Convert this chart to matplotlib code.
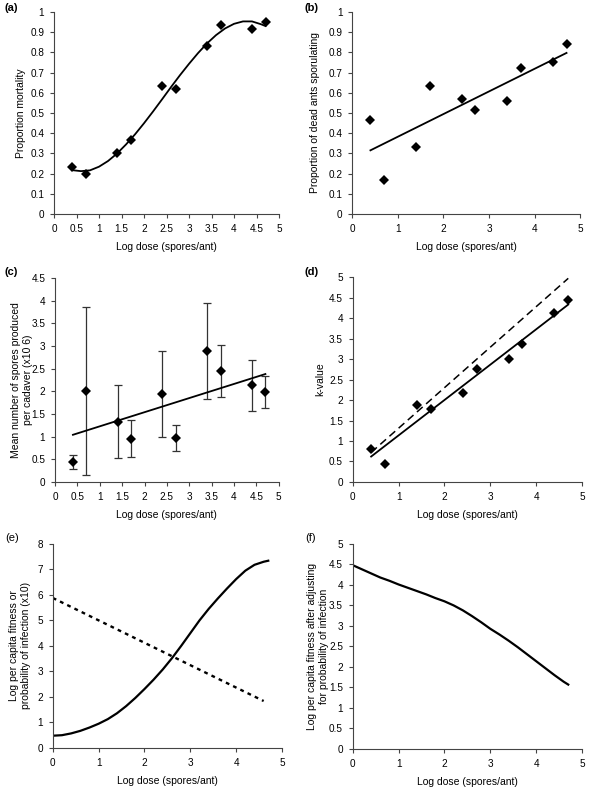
import matplotlib
matplotlib.use('Agg')
import matplotlib.pyplot as plt
from matplotlib.ticker import MultipleLocator

plt.rcParams['font.family'] = ['Liberation Sans', 'DejaVu Sans']

dose = [0.4, 0.7, 1.4, 1.7, 2.4, 2.7, 3.4, 3.7, 4.4, 4.7]

# (a) proportion mortality + polynomial trendline
mortality = [0.233, 0.2, 0.3, 0.367, 0.633, 0.617, 0.833, 0.933, 0.917, 0.95]
fit_a_x = [0.4, 0.6, 0.8, 1.0, 1.2, 1.4, 1.6, 1.8, 2.0, 2.2, 2.4, 2.6, 2.8,
           3.0, 3.2, 3.4, 3.6, 3.8, 4.0, 4.2, 4.4, 4.6, 4.7]
fit_a_y = [0.217, 0.212, 0.216, 0.234, 0.262, 0.299, 0.344, 0.394, 0.449,
           0.507, 0.567, 0.628, 0.687, 0.743, 0.796, 0.844, 0.885, 0.918,
           0.941, 0.953, 0.953, 0.939, 0.93]

# (b) proportion sporulating
sporulating = [0.463, 0.167, 0.333, 0.633, 0.567, 0.513, 0.56, 0.72, 0.753, 0.84]
fit_b_x = [0.4, 4.7]
fit_b_y = [0.315, 0.797]

# (c) spores per cadaver with error bars
spores = [0.44, 2.0, 1.33, 0.95, 1.94, 0.97, 2.89, 2.44, 2.13, 1.98]
spores_err = [0.16, 1.85, 0.8, 0.41, 0.95, 0.29, 1.05, 0.57, 0.56, 0.36]
fit_c_x = [0.4, 4.7]
fit_c_y = [1.04, 2.38]

# (d) k-value
kvalue = [0.8, 0.44, 1.88, 1.78, 2.16, 2.75, 2.99, 3.36, 4.12, 4.44]
fit_d_x = [0.4, 4.7]
fit_d_y = [0.62, 4.33]
dash_d_y = [0.72, 4.97]

# (e) fitness and probability of infection
curve_x = [0.0, 0.2, 0.4, 0.6, 0.8, 1.0, 1.2, 1.4, 1.6, 1.8, 2.0, 2.2, 2.4,
           2.6, 2.8, 3.0, 3.2, 3.4, 3.6, 3.8, 4.0, 4.2, 4.4, 4.6, 4.7]
fitness_e = [0.48, 0.50, 0.57, 0.67, 0.80, 0.95, 1.13, 1.36, 1.64, 1.96, 2.31,
             2.68, 3.08, 3.52, 4.0, 4.5, 5.0, 5.45, 5.86, 6.25, 6.62, 6.95,
             7.18, 7.30, 7.34]
infect_x = [0.0, 4.6]
infect_y = [5.88, 1.84]

# (f) adjusted fitness
fitness_f = [4.48, 4.38, 4.28, 4.18, 4.10, 4.01, 3.93, 3.85, 3.77, 3.68, 3.60,
             3.50, 3.38, 3.24, 3.09, 2.93, 2.79, 2.64, 2.48, 2.31, 2.14, 1.97,
             1.80, 1.64, 1.57]

xlabel = 'Log dose (spores/ant)'
fs = 7.2

fig = plt.figure(figsize=(6, 7.94), dpi=100)


def setup(rect, ymax, ystep, xstep, ylabel, tag, tagpos, bold=True, lpad=6):
    ax = fig.add_axes(rect)
    ax.set_xlim(0, 5)
    ax.set_ylim(0, ymax)
    ax.xaxis.set_major_locator(MultipleLocator(xstep))
    ax.yaxis.set_major_locator(MultipleLocator(ystep))
    ax.spines['top'].set_visible(False)
    ax.spines['right'].set_visible(False)
    for s in ('left', 'bottom'):
        ax.spines[s].set_linewidth(0.8)
        ax.spines[s].set_color('#444444')
    ax.tick_params(length=3, width=0.8, color='#444444', labelsize=fs, pad=4)
    ax.xaxis.set_major_formatter(matplotlib.ticker.FuncFormatter(lambda v, p: ('%g' % v)))
    ax.yaxis.set_major_formatter(matplotlib.ticker.FuncFormatter(lambda v, p: ('%g' % v)))
    ax.set_xlabel(xlabel, fontsize=fs + 0.3, labelpad=6)
    ax.set_ylabel(ylabel, fontsize=fs + 0.3, labelpad=lpad)
    fig.text(tagpos[0], tagpos[1], tag, fontsize=8, ha='left', va='center',
             fontweight='bold' if bold else 'normal')
    return ax


mk = dict(marker='D', ms=4.6, mew=0, color='black', linestyle='none')

ax = setup([0.09, 0.7305, 0.375, 0.2545], 1, 0.1, 0.5, 'Proportion mortality',
           '(a)', (0.008, 0.99), lpad=3)
ax.plot(fit_a_x, fit_a_y, color='black', lw=1.3)
ax.plot(dose, mortality, **mk)

ax = setup([0.587, 0.7305, 0.38, 0.2545], 1, 0.1, 1,
           'Proportion of dead ants sporulating', '(b)', (0.508, 0.99))
ax.plot(fit_b_x, fit_b_y, color='black', lw=1.3)
ax.plot(dose, sporulating, **mk)

ax = setup([0.0917, 0.393, 0.373, 0.257], 4.5, 0.5, 0.5,
           'Mean number of spores produced\nper cadaver (x10 6)', '(c)', (0.008, 0.657),
           lpad=-1)
ax.errorbar(dose, spores, yerr=spores_err, fmt='none', ecolor='#333333',
            elinewidth=0.9, capsize=3, capthick=0.9)
ax.plot(fit_c_x, fit_c_y, color='black', lw=1.3)
ax.plot(dose, spores, **mk)

ax = setup([0.588, 0.393, 0.382, 0.258], 5, 0.5, 1, 'k-value', '(d)', (0.508, 0.657),
           lpad=3)
ax.plot(fit_d_x, dash_d_y, color='black', lw=1.1, dashes=(5, 3))
ax.plot(fit_d_x, fit_d_y, color='black', lw=1.3)
ax.plot(dose, kvalue, **mk)

ax = setup([0.088, 0.058, 0.382, 0.257], 8, 1, 1,
           'Log per capita fitness or\nprobability of infection (x10)', '(e)',
           (0.008, 0.323), bold=False, lpad=5)
ax.plot(curve_x, fitness_e, color='black', lw=1.6)
ax.plot(infect_x, infect_y, color='black', lw=1.7, dashes=(1.6, 1.8))

ax = setup([0.588, 0.0567, 0.382, 0.2583], 5, 0.5, 1,
           'Log per capita fitness after adjusting\nfor probability of infection', '(f)',
           (0.508, 0.323), bold=False, lpad=0)
ax.plot(curve_x, fitness_f, color='black', lw=1.6)

fig.savefig('out.png', dpi=100)
